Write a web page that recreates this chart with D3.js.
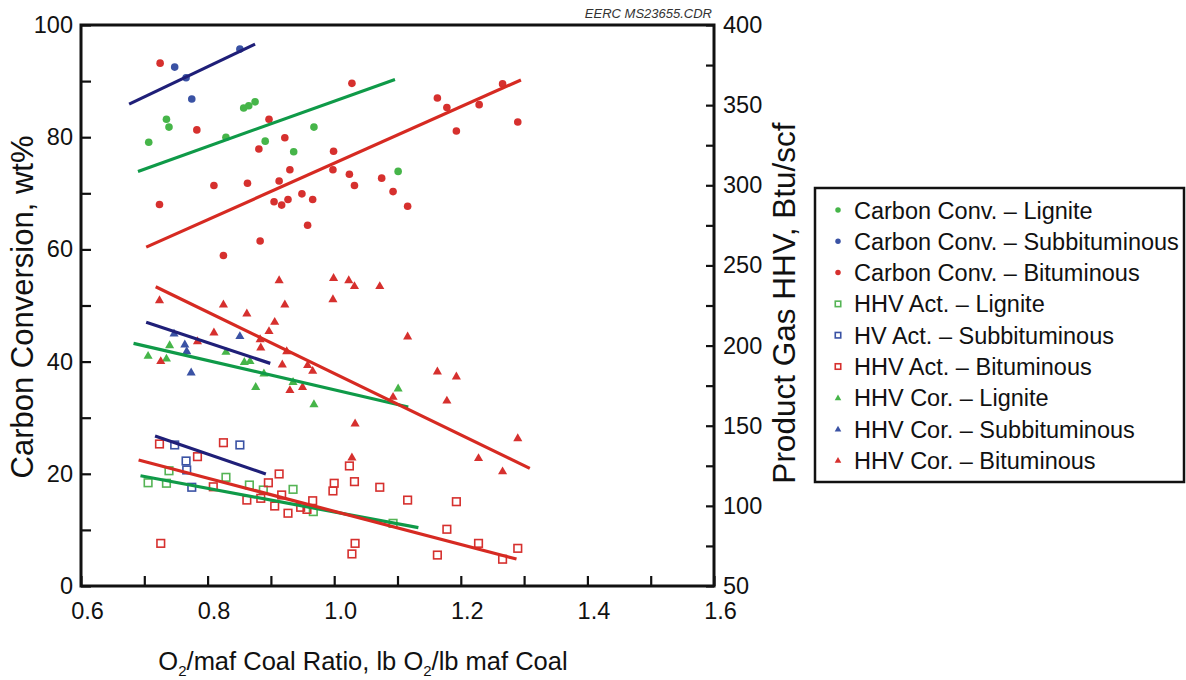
<!DOCTYPE html>
<html>
<head>
<meta charset="utf-8">
<script src="https://cdn.jsdelivr.net/npm/d3@7"></script>
<style>
  body { margin: 0; background: #fff; }
  svg { font-family: "Liberation Sans", Arial, Helvetica, sans-serif; }
</style>
</head>
<body>
<svg id="chart" width="1186" height="680"></svg>
<script>
// --- data: [O2/maf coal ratio, value] ---
// carbon conversion, wt% (left axis)
var ccLignite = [[0.707,79.1],[0.735,83.2],[0.739,81.8],[0.829,80.0],[0.857,85.2],[0.865,85.6],
                 [0.875,86.3],[0.891,79.3],[0.936,77.4],[0.968,81.8],[1.101,73.9]];
var ccSubbit = [[0.748,92.5],[0.766,90.6],[0.775,86.8],[0.851,95.7]];
var ccBitum = [[0.725,93.2],[1.028,89.6],[0.897,83.2],[0.783,81.3],[0.922,79.9],[0.881,77.9],
               [0.999,77.5],[0.930,74.2],[0.998,74.2],[1.024,73.4],[1.032,71.4],[0.810,71.4],
               [0.863,71.8],[0.913,72.2],[0.949,69.9],[0.966,68.9],[0.905,68.5],[0.917,67.9],
               [0.927,68.9],[0.724,68.0],[1.075,72.7],[1.093,70.3],[1.116,67.7],[1.163,87.0],
               [1.178,85.3],[1.266,89.5],[1.229,85.8],[1.193,81.1],[1.290,82.7],[0.825,58.9],
               [0.883,61.5],[0.958,64.3]];

// HHV actual, Btu/scf (right axis)
var actLignite = [[0.706,114.4],[0.735,114.1],[0.739,121.9],[0.829,117.8],[0.866,113.0],
                  [0.888,109.9],[0.935,110.3],[0.967,96.4],[1.093,89.1]];
var actSubbit = [[0.748,138.0],[0.766,128.0],[0.767,122.4],[0.775,111.6],[0.851,138.0]];
var actBitum = [[0.724,138.6],[0.825,139.4],[0.784,130.7],[0.809,111.9],[0.862,103.6],[0.884,104.7],
                [0.896,114.4],[0.913,119.9],[0.917,106.8],[0.906,99.9],[0.927,95.4],[0.947,99.1],
                [0.957,97.8],[0.966,103.2],[1.000,114.1],[0.998,109.3],[1.024,124.9],[1.032,115.1],
                [1.072,111.6],[0.726,76.6],[1.028,70.0],[1.033,76.6],[1.116,103.6],[1.193,102.6],
                [1.178,85.4],[1.163,69.3],[1.228,76.6],[1.266,66.7],[1.290,73.5]];

// HHV corrected, Btu/scf (right axis)
var corLignite = [[0.706,193.7],[0.740,200.3],[0.735,192.0],[0.829,196.2],[0.858,189.9],
                  [0.867,190.4],[0.889,182.7],[0.876,174.3],[0.935,177.4],[0.968,163.5],[1.101,173.3]];
var corSubbit = [[0.747,207.6],[0.764,200.8],[0.767,196.6],[0.774,183.3],[0.851,206.0]];
var corBitum = [[0.724,228.4],[0.825,225.7],[0.862,220.1],[0.810,208.3],[0.784,202.8],[0.726,190.4],
                [0.913,240.9],[0.922,225.7],[0.906,214.9],[0.897,209.1],[0.883,204.1],[0.884,198.9],
                [0.925,196.6],[0.918,188.3],[0.958,187.9],[0.966,184.3],[0.999,242.3],[1.023,240.9],
                [1.032,237.2],[0.998,229.0],[1.072,237.2],[0.930,172.3],[0.950,174.3],[1.116,205.8],
                [1.163,183.9],[1.193,180.8],[1.178,165.8],[1.093,168.1],[1.290,142.3],[1.228,129.9],
                [1.266,121.6],[1.033,151.5],[1.028,130.3]];

// trend lines: [x0, y0, x1, y1]
var fitCcLignite = [0.690, 73.9, 1.096, 90.3];
var fitCcSubbit = [0.676, 85.9, 0.875, 96.6];
var fitCcBitum = [0.703, 60.4, 1.295, 90.2];
var fitActLignite = [0.694, 118.8, 1.133, 86.4];
var fitActSubbit = [0.717, 143.6, 0.892, 119.9];
var fitActBitum = [0.691, 128.6, 1.288, 66.8];
var fitCorLignite = [0.683, 201.4, 1.117, 161.7];
var fitCorSubbit = [0.703, 214.5, 0.899, 188.9];
var fitCorBitum = [0.718, 236.7, 1.309, 123.4];

var legendLabels = ["Carbon Conv. \u2013 Lignite", "Carbon Conv. \u2013 Subbituminous",
  "Carbon Conv. \u2013 Bituminous", "HHV Act. \u2013 Lignite", "HV Act. \u2013 Subbituminous",
  "HHV Act. \u2013 Bituminous", "HHV Cor. \u2013 Lignite", "HHV Cor. \u2013 Subbituminous",
  "HHV Cor. \u2013 Bituminous"];

var green = "#46b549", blue = "#3a52a4", red = "#d6302e";
var lineGreen = "#0f9a48", lineBlue = "#1f1f78", lineRed = "#d62a22";

var series = [
  {pts: ccLignite, shape: "circle", color: green, axis: "L"},
  {pts: ccSubbit, shape: "circle", color: blue, axis: "L"},
  {pts: ccBitum, shape: "circle", color: red, axis: "L"},
  {pts: actLignite, shape: "square", color: "#55b455", axis: "R"},
  {pts: actSubbit, shape: "square", color: blue, axis: "R"},
  {pts: actBitum, shape: "square", color: red, axis: "R"},
  {pts: corLignite, shape: "triangle", color: green, axis: "R"},
  {pts: corSubbit, shape: "triangle", color: blue, axis: "R"},
  {pts: corBitum, shape: "triangle", color: red, axis: "R"}
];
var fits = [
  {f: fitCcLignite, color: lineGreen, axis: "L"},
  {f: fitCcSubbit, color: lineBlue, axis: "L"},
  {f: fitCcBitum, color: lineRed, axis: "L"},
  {f: fitActLignite, color: lineGreen, axis: "R"},
  {f: fitActSubbit, color: lineBlue, axis: "R"},
  {f: fitActBitum, color: lineRed, axis: "R"},
  {f: fitCorLignite, color: lineGreen, axis: "R"},
  {f: fitCorSubbit, color: lineBlue, axis: "R"},
  {f: fitCorBitum, color: lineRed, axis: "R"}
];

var svg = d3.select("#chart");
var pLeft = 81, pRight = 714, pTop = 25, pBottom = 586;

var x = d3.scaleLinear().domain([0.6, 1.6]).range([pLeft, pRight]);
var yL = d3.scaleLinear().domain([0, 100]).range([pBottom, pTop]);
var yR = d3.scaleLinear().domain([50, 400]).range([pBottom, pTop]);
function yOf(axis) { return axis == "L" ? yL : yR; }

// axes (ticks point inward)
var xAxis = svg.append("g")
  .attr("transform", "translate(0," + pBottom + ")")
  .call(d3.axisBottom(x)
    .tickValues(d3.range(6, 17).map(function(d){ return d / 10; }))
    .tickSize(-10).tickPadding(16)
    .tickFormat(function(d){ return Math.round(d * 10) % 2 == 0 ? d3.format(".1f")(d) : ""; }));
xAxis.selectAll("text").attr("dx", 6);

var lAxis = svg.append("g")
  .attr("transform", "translate(" + pLeft + ",0)")
  .call(d3.axisLeft(yL).tickValues(d3.range(0, 101, 10)).tickSize(-10).tickPadding(8)
    .tickFormat(function(d){ return d % 20 == 0 ? d : ""; }));

var rAxis = svg.append("g")
  .attr("transform", "translate(" + pRight + ",0)")
  .call(d3.axisRight(yR).tickValues(d3.range(50, 401, 25)).tickSize(-8).tickPadding(9)
    .tickFormat(function(d){ return d % 50 == 0 ? d : ""; }));

[xAxis, lAxis, rAxis].forEach(function(a){
  a.select(".domain").remove();
  a.selectAll("line").attr("stroke", "#111").attr("stroke-width", 2.2);
  a.selectAll("text").attr("fill", "#111").style("font-size", "23.5px");
});

// frame
svg.append("rect")
  .attr("x", pLeft).attr("y", pTop)
  .attr("width", pRight - pLeft).attr("height", pBottom - pTop)
  .attr("fill", "none").attr("stroke", "#111").attr("stroke-width", 3);

// markers
function drawMarker(g, shape, color, cx, cy, s) {
  if (shape == "circle") {
    g.append("circle").attr("cx", cx).attr("cy", cy).attr("r", 3.8 * s).attr("fill", color);
  } else if (shape == "square") {
    g.append("rect").attr("x", cx - 3.8 * s).attr("y", cy - 3.8 * s)
      .attr("width", 7.6 * s).attr("height", 7.6 * s)
      .attr("fill", "none").attr("stroke", color).attr("stroke-width", 1.6);
  } else {
    g.append("path").attr("d", d3.symbol().type(d3.symbolTriangle).size(36 * s * s)())
      .attr("transform", "translate(" + cx + "," + (cy + 0.5) + ")").attr("fill", color);
  }
}

var marks = svg.append("g");
series.forEach(function(s){
  var y = yOf(s.axis);
  s.pts.forEach(function(p){ drawMarker(marks, s.shape, s.color, x(p[0]), y(p[1]), 1); });
});

// trend lines
svg.append("g").selectAll("line").data(fits).enter().append("line")
  .attr("x1", function(d){ return x(d.f[0]); })
  .attr("y1", function(d){ return yOf(d.axis)(d.f[1]); })
  .attr("x2", function(d){ return x(d.f[2]); })
  .attr("y2", function(d){ return yOf(d.axis)(d.f[3]); })
  .attr("stroke", function(d){ return d.color; })
  .attr("stroke-width", 3.2);

// axis titles
svg.append("text")
  .attr("transform", "translate(33,307) rotate(-90)")
  .attr("text-anchor", "middle").attr("fill", "#111").style("font-size", "31px")
  .text("Carbon Conversion, wt%");

svg.append("text")
  .attr("transform", "translate(795,303) rotate(-90)")
  .attr("text-anchor", "middle").attr("fill", "#111").style("font-size", "31.5px")
  .text("Product Gas HHV, Btu/scf");

var xt = svg.append("text")
  .attr("x", 363).attr("y", 670)
  .attr("text-anchor", "middle").attr("fill", "#111").style("font-size", "25.5px");
xt.append("tspan").text("O");
xt.append("tspan").attr("dy", 6).style("font-size", "15px").text("2");
xt.append("tspan").attr("dy", -6).text("/maf Coal Ratio, lb O");
xt.append("tspan").attr("dy", 6).style("font-size", "15px").text("2");
xt.append("tspan").attr("dy", -6).text("/lb maf Coal");

svg.append("text")
  .attr("x", 712).attr("y", 18).attr("text-anchor", "end")
  .attr("fill", "#333").style("font-size", "13px").style("font-style", "italic")
  .text("EERC MS23655.CDR");

// legend
var lg = svg.append("g");
lg.append("rect").attr("x", 815).attr("y", 188).attr("width", 369).attr("height", 294)
  .attr("fill", "#fff").attr("stroke", "#111").attr("stroke-width", 2.5);
legendLabels.forEach(function(t, i){
  var cy = 210 + i * 31.3;
  drawMarker(lg, series[i].shape, series[i].color, 838, cy, 0.72);
  lg.append("text").attr("x", 854).attr("y", cy + 8.5)
    .attr("fill", "#111").style("font-size", "23.5px").text(t);
});
</script>
</body>
</html>
